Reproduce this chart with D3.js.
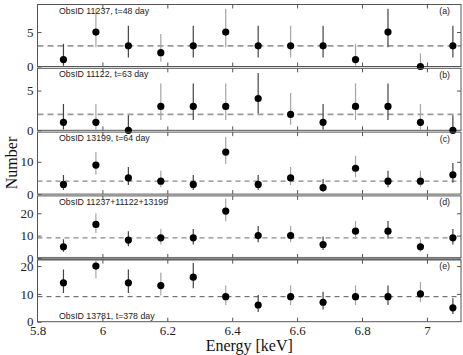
<!DOCTYPE html>
<html>
<head>
<meta charset="utf-8">
<script src="https://cdn.jsdelivr.net/npm/d3@7/dist/d3.min.js"></script>
<style>
body { margin: 0; background: #fff; }
svg { display: block; }
.domain { display: none; }
svg .tick text { font-family: 'Liberation Serif', 'DejaVu Serif', serif; }
</style>
</head>
<body>
<div id="graphic"></div>
<script>
// bin centres (keV)
var energy = [5.88, 5.98, 6.08, 6.18, 6.28, 6.38, 6.48, 6.58, 6.68, 6.78, 6.88, 6.98, 7.08];

// counts per panel, with error bar ends
var countsA = [1, 5, 3, 2, 3, 5, 3, 3, 3, 1, 5, 0, 3];
var hiA = [3.3, 8.4, 5.9, 4.7, 5.9, 8.4, 5.9, 5.9, 5.9, 3.3, 8.4, 1.9, 5.9];
var loA = [0.1, 2.8, 1.3, 0.7, 1.3, 2.8, 1.3, 1.3, 1.3, 0.1, 2.8, 0, 1.3];

var countsB = [1, 1, 0, 3, 3, 3, 4, 2, 1, 3, 3, 1, 0];
var hiB = [3.3, 3.3, 1.9, 5.9, 5.9, 5.9, 7.2, 4.7, 3.3, 5.9, 5.9, 3.3, 1.9];
var loB = [0.1, 0.1, 0, 1.3, 1.3, 1.3, 2.1, 0.7, 0.1, 1.3, 1.3, 0.1, 0];

var countsC = [3, 9, 5, 4, 3, 13, 3, 5, 2, 8, 4, 4, 6];
var hiC = [5.9, 13.0, 8.4, 7.2, 5.9, 17.7, 5.9, 8.4, 4.7, 11.9, 7.2, 7.2, 9.6];
var loC = [1.3, 6.0, 2.8, 2.1, 1.3, 9.4, 1.3, 2.8, 0.7, 5.2, 2.1, 2.1, 3.5];

var countsD = [5, 15, 8, 9, 9, 21, 10, 10, 6, 12, 12, 5, 9];
var hiD = [8.4, 19.9, 11.9, 13.0, 13.0, 26.6, 14.3, 14.3, 9.6, 16.6, 16.6, 8.4, 13.0];
var loD = [2.8, 11.2, 5.2, 6.0, 6.0, 16.4, 7.0, 7.0, 3.5, 8.6, 8.6, 2.8, 6.0];

var countsE = [14, 20, 14, 13, 16, 9, 6, 9, 7, 9, 9, 10, 5];
var hiE = [18.8, 25.5, 18.8, 17.7, 21.1, 13.0, 9.6, 13.0, 10.8, 13.0, 13.0, 14.3, 8.4];
var loE = [10.3, 15.5, 10.3, 9.4, 12.0, 6.0, 3.5, 6.0, 4.4, 6.0, 6.0, 7.0, 2.8];

var levels = [3, 2, 4, 9, 9];
var yMax = [9, 7.8, 19.2, 27.8, 22.3];
var yTicks = [[0, 5], [0, 5], [0, 10], [0, 10, 20], [0, 10, 20]];
var xTicks = [5.8, 6, 6.2, 6.4, 6.6, 6.8, 7];
var obsLabels = ["ObsID 11237, t=48 day", "ObsID 11122, t=63 day", "ObsID 13199, t=64 day",
	"ObsID 11237+11122+13199", "ObsID 13781, t=378 day"];
var tags = ["(a)", "(b)", "(c)", "(d)", "(e)"];

var width = 463, height = 355;
var left = 37.5, right = 461, top0 = 4.5, panelH = 62, gap = 1.8;
var serif = "'Liberation Serif', 'DejaVu Serif', serif";
var sans = "'Liberation Sans', Arial, sans-serif";

var panels = [
	{counts: countsA, hi: hiA, lo: loA},
	{counts: countsB, hi: hiB, lo: loB},
	{counts: countsC, hi: hiC, lo: loC},
	{counts: countsD, hi: hiD, lo: loD},
	{counts: countsE, hi: hiE, lo: loE}
];

var svg = d3.select("#graphic").append("svg")
	.attr("width", width)
	.attr("height", height);

var x = d3.scaleLinear().domain([5.8, 7.105]).range([left, right]);

function styleAxis(sel) {
	sel.attr("font-family", serif).attr("font-size", 13);
	sel.selectAll(".tick line").attr("stroke", "#555");
	sel.selectAll(".tick text").attr("fill", "#222").style("font-family", serif);
}

// gray band between (d) and (e)
var bandTop = top0 + 4 * panelH + 3 * gap;
svg.append("rect")
	.attr("x", left).attr("y", bandTop - 1)
	.attr("width", right - left).attr("height", gap + 2)
	.attr("fill", "#aaa");

var dashStyle = [
	{c: "#9a9a9a", w: 1.6, d: "6,4"},
	{c: "#9a9a9a", w: 1.6, d: "6,4"},
	{c: "#888", w: 1.2, d: "5,4"},
	{c: "#888", w: 1.2, d: "5,4"},
	{c: "#555", w: 1, d: "5,4"}
];

panels.forEach(function(p, i) {
	var pTop = top0 + i * (panelH + gap);
	var pBot = pTop + panelH;
	var y = d3.scaleLinear().domain([0, yMax[i]]).range([pBot, pTop]);
	var g = svg.append("g");

	svg.append("clipPath").attr("id", "clip" + i)
		.append("rect")
		.attr("x", left).attr("y", pTop)
		.attr("width", right - left).attr("height", panelH);

	// ticks
	g.append("g").attr("transform", "translate(" + left + ",0)")
		.call(d3.axisLeft(y).tickValues(yTicks[i]).tickSize(-4).tickPadding(4).tickFormat(d3.format("d")))
		.call(styleAxis);
	g.append("g").attr("transform", "translate(" + right + ",0)")
		.call(d3.axisRight(y).tickValues(yTicks[i].slice(1)).tickSize(-4).tickFormat(""))
		.call(styleAxis);
	g.append("g").attr("transform", "translate(0," + pBot + ")")
		.call(d3.axisBottom(x).tickValues(xTicks.slice(1)).tickSize(-4).tickFormat(""))
		.call(styleAxis);
	g.append("g").attr("transform", "translate(0," + pTop + ")")
		.call(d3.axisTop(x).tickValues(xTicks.slice(1)).tickSize(-4).tickFormat(""))
		.call(styleAxis);

	// dashed level
	g.append("line")
		.attr("x1", left).attr("x2", right)
		.attr("y1", y(levels[i])).attr("y2", y(levels[i]))
		.attr("stroke", dashStyle[i].c)
		.attr("stroke-width", dashStyle[i].w)
		.attr("stroke-dasharray", dashStyle[i].d);

	// error bars
	g.append("g").attr("clip-path", "url(#clip" + i + ")")
		.selectAll("line").data(p.counts).enter()
		.append("line")
		.attr("x1", function(d, j) { return x(energy[j]); })
		.attr("x2", function(d, j) { return x(energy[j]); })
		.attr("y1", function(d, j) { return y(p.lo[j]); })
		.attr("y2", function(d, j) { return y(p.hi[j]); })
		.attr("stroke", function(d, j) { return j % 2 ? "#a5a5a5" : "#444"; })
		.attr("stroke-width", 1.2);

	// frame
	g.append("rect")
		.attr("x", left).attr("y", pTop)
		.attr("width", right - left).attr("height", panelH)
		.attr("fill", "none").attr("stroke", "#555").attr("stroke-width", 1);

	// points
	g.selectAll("circle").data(p.counts).enter()
		.append("circle")
		.attr("cx", function(d, j) { return x(energy[j]); })
		.attr("cy", function(d) { return y(d); })
		.attr("r", 3.6)
		.attr("fill", "#000");

	// labels
	g.append("text")
		.attr("x", 59)
		.attr("y", i == 4 ? pBot - 2.5 : pTop + 9)
		.style("font-family", sans)
		.attr("font-size", 8.8)
		.attr("fill", "#222")
		.text(obsLabels[i]);
	g.append("text")
		.attr("x", 450)
		.attr("y", pTop + 9.5)
		.attr("text-anchor", "end")
		.style("font-family", sans)
		.attr("font-size", 8.8)
		.attr("fill", "#222")
		.text(tags[i]);

	if (i == 4) {
		g.append("g").attr("transform", "translate(0," + pBot + ")")
			.call(d3.axisBottom(x).tickValues(xTicks).tickSize(0).tickPadding(4).tickFormat(function(d) { return d; }))
			.call(styleAxis);
	}
});

svg.append("text")
	.attr("x", (left + right) / 2)
	.attr("y", 351)
	.attr("text-anchor", "middle")
	.style("font-family", serif)
	.attr("font-size", 16)
	.attr("fill", "#111")
	.text("Energy [keV]");

svg.append("text")
	.attr("transform", "translate(17,163) rotate(-90)")
	.attr("text-anchor", "middle")
	.style("font-family", serif)
	.attr("font-size", 16)
	.attr("fill", "#111")
	.text("Number");
</script>
</body>
</html>
